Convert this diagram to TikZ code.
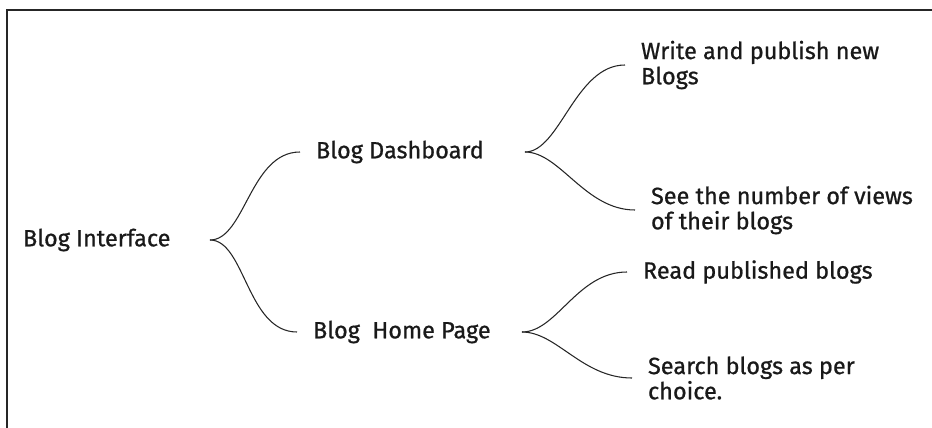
\documentclass[tikz,border=0pt]{standalone}
\usepackage{fontspec}
\setmainfont{Fira Sans}[FakeBold=0.8]

\begin{document}
\begin{tikzpicture}[
        x=0.75pt, y=-0.75pt,
        label/.style={
            anchor=west,
            inner sep=0pt,
            outer xsep=12pt,
            align=left,
            text=black!90,
            font=\fontsize{17.6}{18.9}\selectfont
        },
        brace/.style={draw=black!85, line width=0.8pt}
    ]
        \useasboundingbox (0,0) rectangle (932,428);
        \draw[line width=1.6pt, black!85] (932,10) -- (7,10) -- (7,428);

        \node[label, outer xsep=0pt] (iface) at (23,240) {Blog Interface};

        \coordinate (t1) at (210,240);
        \coordinate (t2) at (525,152);
        \coordinate (t3) at (522,332);

        \node[label] (dash) at (300,152) {Blog Dashboard};
        \node[label] (home) at (297,332) {Blog\ \ Home Page};

        \node[label] (write) at (625,65) {
            Write and publish new\\
            Blogs
        };
        \node[label] (views) at (635,210) {
            See the number of views\\
            of their blogs
        };
        \node[label] (read) at (627,272) {Read published blogs};
        \node[label] (search) at (632,378) {
            Search blogs as per\\
            choice.
        };

        \foreach \tip/\a/\b in {t1/dash/home, t2/write/views, t3/read/search} {
            \draw[brace] (\tip) .. controls +(35,0) and +(-50,0) .. (\a.west);
            \draw[brace] (\tip) .. controls +(35,0) and +(-50,0) .. (\b.west);
        }
    \end{tikzpicture}
\end{document}
